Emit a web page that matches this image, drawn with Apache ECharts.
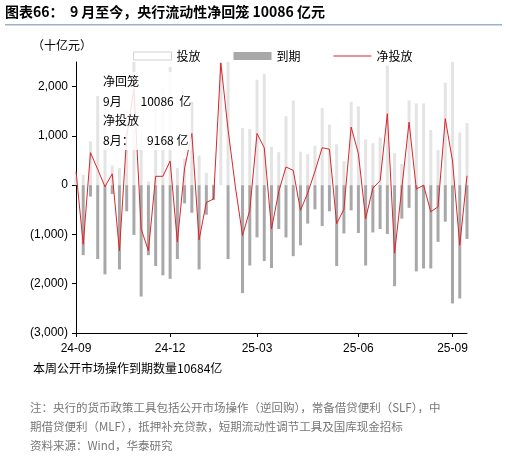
<!DOCTYPE html>
<html><head><meta charset="utf-8">
<script src="https://cdn.jsdelivr.net/npm/echarts@6/dist/echarts.min.js"></script>
<style>html,body{margin:0;padding:0;background:#fff}#c{width:507px;height:464px}</style>
</head><body><div id="c"></div>
<script>
// weekly open market data, 十亿元
const weeks = Array.from({length: 55}, (_, i) => 'W' + i);
const tickLabels = {0: '24-09', 13: '24-12', 25: '25-03', 39: '25-06', 52: '25-09'};
const release = [180,210,890,1810,1780,400,350,1510,2500,1100,75,1800,2000,2400,350,540,1690,600,250,20,2500,2500,0,1160,1140,2140,2260,780,670,1400,1720,680,630,800,1570,1230,830,490,1690,1600,930,850,970,2430,650,430,1720,1660,1660,1120,710,2080,2500,1070,1260];
const maturity = [0,-1420,-230,-1500,-1810,-180,-1710,-530,-1010,-2260,-1420,-1640,-1830,-1900,-1500,-370,-560,-1710,-600,-300,0,-1500,0,-2190,-1630,-1060,-1540,-1680,-890,-1060,-1440,-1220,-780,-490,-830,-530,-1640,-980,-510,-970,-1630,-960,-890,-990,-2050,-680,-460,-1750,-1690,-1690,-1150,-740,-2400,-2300,-1090];
const net = [280,-1200,660,320,-30,230,-1330,980,1960,-890,-1330,180,180,490,-1150,350,1050,-1110,-350,-280,2480,1130,-20,-1020,-510,1050,760,-890,-130,370,300,-510,-160,280,760,730,-780,-490,1180,640,-680,-60,90,1450,-1380,-60,1280,-80,0,-540,-440,1350,490,-1220,190];

const chart = echarts.init(document.getElementById('c'));
const font = '"Noto Sans CJK SC", sans-serif';
const showTick = i => tickLabels[i] !== undefined;
const fmt = v => {
  const s = Math.abs(v).toLocaleString('en-US');
  return v < 0 ? '(' + s + ')' : s;
};
chart.setOption({
  animation: false,
  textStyle: {fontFamily: font},
  grid: {left: 76, right: 40, top: 62, bottom: 131},
  legend: {
    top: 45, left: 128, itemGap: 33, itemWidth: 38, itemHeight: 8,
    textStyle: {fontSize: 12, color: '#000', fontFamily: font},
    data: [
      {name: '投放', icon: 'rect', itemStyle: {color: '#fff', borderColor: '#d0d0d0', borderWidth: 1}},
      {name: '到期', icon: 'rect'},
      {name: '净投放', icon: 'path://M0,0H40V1H0Z'}
    ]
  },
  xAxis: [{
    type: 'category', data: weeks, boundaryGap: false,
    axisLine: {show: false}, axisTick: {show: false},
    axisLabel: {interval: showTick, formatter: (v, i) => tickLabels[i] || '', color: '#000', fontSize: 12, fontFamily: 'Liberation Sans', margin: 10}
  }, {
    type: 'category', data: weeks, boundaryGap: false, position: 'bottom',
    axisLine: {onZero: true, lineStyle: {color: '#000', width: 1.2}},
    axisTick: {interval: showTick, length: 4, lineStyle: {color: '#000'}},
    axisLabel: {show: false}
  }],
  yAxis: {
    type: 'value', min: -3000, max: 2500, interval: 1000,
    splitLine: {show: false},
    axisLine: {show: true, lineStyle: {color: '#000'}},
    axisTick: {show: true, inside: false, length: 4, lineStyle: {color: '#000'}},
    axisLabel: {formatter: fmt, color: '#000', fontSize: 12, fontFamily: 'Liberation Sans', showMaxLabel: false}
  },
  series: [
    {name: '投放', type: 'bar', data: release, barWidth: 3, barGap: '-100%', itemStyle: {color: '#e4e4e4'}},
    {name: '到期', type: 'bar', data: maturity, barWidth: 3, itemStyle: {color: '#a8a8a8'}},
    {name: '净投放', type: 'line', data: net, symbol: 'none', itemStyle: {color: '#d9262a'}, lineStyle: {color: '#d9262a', width: 1}}
  ],
  graphic: [
    {type: 'text', left: 5, top: 5, style: {text: '图表66：  9 月至今，央行流动性净回笼 10086 亿元', font: 'bold 14px ' + font, fill: '#000'}},
    {type: 'rect', shape: {x: 5, y: 24, width: 497, height: 1.5}, style: {fill: '#9fb3c8'}},
    {type: 'text', left: 32, top: 39, style: {text: '（十亿元）', font: '12px ' + font, fill: '#000'}},
    {type: 'text', left: 103, top: 72, z: 100, style: {text: '净回笼\n9月       10086  亿\n净投放\n8月：     9168 亿', font: '12px ' + font, fill: '#000', lineHeight: 19.5, backgroundColor: 'rgba(255,255,255,0.85)'}},
    {type: 'text', left: 33, top: 362, style: {text: '本周公开市场操作到期数量10684亿', font: '12px ' + font, fill: '#000'}},
    {type: 'text', left: 30, top: 398, style: {text: '注：央行的货币政策工具包括公开市场操作（逆回购），常备借贷便利（SLF），中\n期借贷便利（MLF），抵押补充贷款，短期流动性调节工具及国库现金招标\n资料来源：Wind，华泰研究', font: '11.5px ' + font, fill: '#777', lineHeight: 19}}
  ]
});
</script></body></html>
